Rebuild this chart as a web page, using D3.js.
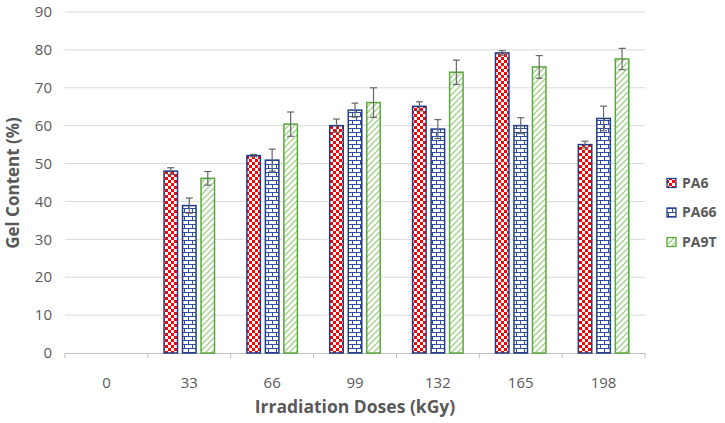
<!DOCTYPE html>
<html><head><meta charset="utf-8">
<script src="https://cdn.jsdelivr.net/npm/d3@7"></script>
<style>body{margin:0;background:#fff;} text{font-family:"Open Sans",Lato,sans-serif;}</style>
</head><body><svg id="c" width="725" height="423"></svg>
<script>
const categories = ["0","33","66","99","132","165","198"];
const seriesNames = ["PA6","PA66","PA9T"];
const pa6  = [null,48,52.1,60,65.1,79.2,55];
const pa66 = [null,38.9,50.9,64.1,59.1,60,61.9];
const pa9t = [null,46.1,60.4,66.1,74.1,75.5,77.6];
const pa6Err  = [0,0.9,0.3,1.75,1.2,0.6,0.9];
const pa66Err = [0,2.0,2.9,1.85,2.5,2.1,3.25];
const pa9tErr = [0,1.8,3.2,3.9,3.2,3.0,2.8];
const yTicks = [0,10,20,30,40,50,60,70,80,90];

const svg = d3.select("#c");
const defs = svg.append("defs");
// PA6 checkerboard
const p1 = defs.append("pattern").attr("id","pat0").attr("patternUnits","userSpaceOnUse").attr("width",6).attr("height",6);
p1.append("rect").attr("width",6).attr("height",6).attr("fill","#fff");
p1.append("rect").attr("width",3).attr("height",3).attr("fill","#ff0000");
p1.append("rect").attr("x",3).attr("y",3).attr("width",3).attr("height",3).attr("fill","#ff0000");
// PA66 bricks
const p2 = defs.append("pattern").attr("id","pat1").attr("patternUnits","userSpaceOnUse").attr("width",8).attr("height",8);
p2.append("rect").attr("width",8).attr("height",8).attr("fill","#fff");
p2.append("path").attr("d","M0,0.5H8M0,4.5H8M0.5,0.5V4.5M4.5,4.5V8.5").attr("stroke","#2f4fa0").attr("stroke-width",1).attr("fill","none");
// PA9T diagonal
const p3 = defs.append("pattern").attr("id","pat2").attr("patternUnits","userSpaceOnUse").attr("width",6).attr("height",6);
p3.append("rect").attr("width",6).attr("height",6).attr("fill","#fff");
p3.append("path").attr("d","M-1,7L7,-1M-1,1L1,-1M5,7L7,5").attr("stroke","#9fd18a").attr("stroke-width",1.3);

const x0 = d3.scaleBand().domain(categories).range([65,645]).paddingInner(0).paddingOuter(0);
const x1 = d3.scaleBand().domain(seriesNames).range([x0.bandwidth()/2-26, x0.bandwidth()/2+26]).paddingInner(0.19);
const y = d3.scaleLinear().domain([0,90]).range([353,12]);

// gridlines
svg.append("g").selectAll("line").data(yTicks.filter(d=>d>0)).join("line")
  .attr("x1",65).attr("x2",645).attr("y1",d=>y(d)).attr("y2",d=>y(d))
  .attr("stroke","#d9d9d9").attr("stroke-width",1);

// y labels
svg.append("g").selectAll("text").data(yTicks).join("text")
  .attr("x",52).attr("y",d=>y(d)).attr("dy","0.35em").attr("text-anchor","end")
  .attr("font-size",15).attr("fill","#595959").text(d=>d);

// x axis
const gx = svg.append("g").attr("transform","translate(0,353.5)");
gx.append("line").attr("x1",65).attr("x2",645).attr("stroke","#bfbfbf");
gx.selectAll("line.tk").data(categories.concat(["end"])).join("line").attr("class","tk")
  .attr("x1",(d,i)=>65+i*x0.step()).attr("x2",(d,i)=>65+i*x0.step()).attr("y1",0).attr("y2",5).attr("stroke","#bfbfbf");
gx.selectAll("text").data(categories).join("text")
  .attr("x",d=>x0(d)+x0.bandwidth()/2).attr("y",34).attr("text-anchor","middle")
  .attr("font-size",15).attr("fill","#595959").text(d=>d);

const values = [pa6,pa66,pa9t];
const errs = [pa6Err,pa66Err,pa9tErr];
const strokes = ["#1f3c88","#1f3c88","#5aa83b"];
seriesNames.forEach((s,si)=>{
  const g = svg.append("g");
  const data = categories.map((c,i)=>({c, v:values[si][i], e:errs[si][i]})).filter(d=>d.v!=null);
  g.selectAll("rect").data(data).join("rect")
    .attr("x",d=>x0(d.c)+x1(s)+0.75).attr("width",x1.bandwidth()-1.5)
    .attr("y",d=>y(d.v)).attr("height",d=>y(0)-y(d.v))
    .attr("fill",`url(#pat${si})`).attr("stroke",strokes[si]).attr("stroke-width",1.5);
  const eg = g.selectAll("g.err").data(data).join("g").attr("class","err");
  const cx = d=>x0(d.c)+x1(s)+x1.bandwidth()/2;
  eg.append("line").attr("x1",cx).attr("x2",cx).attr("y1",d=>y(d.v+d.e)).attr("y2",d=>y(d.v-d.e)).attr("stroke","#666").attr("stroke-width",1.2);
  eg.append("line").attr("x1",d=>cx(d)-3.5).attr("x2",d=>cx(d)+3.5).attr("y1",d=>y(d.v+d.e)).attr("y2",d=>y(d.v+d.e)).attr("stroke","#666").attr("stroke-width",1.2);
  eg.append("line").attr("x1",d=>cx(d)-3.5).attr("x2",d=>cx(d)+3.5).attr("y1",d=>y(d.v-d.e)).attr("y2",d=>y(d.v-d.e)).attr("stroke","#666").attr("stroke-width",1.2);
});

// legend
const lg = svg.append("g");
seriesNames.forEach((s,i)=>{
  const yy = 183 + i*29.5;
  lg.append("rect").attr("x",667).attr("y",yy-4.5).attr("width",9).attr("height",9)
    .attr("fill",`url(#pat${i})`).attr("stroke",strokes[i]).attr("stroke-width",1.3);
  lg.append("text").attr("x",682).attr("y",yy).attr("dy","0.35em").attr("font-size",14).attr("font-weight","bold")
    .attr("fill","#595959").text(s);
});

// axis titles
svg.append("text").attr("transform","translate(19,183) rotate(-90)").attr("text-anchor","middle")
  .attr("font-size",17).attr("font-weight","bold").attr("fill","#595959").text("Gel Content (%)");
svg.append("text").attr("x",355).attr("y",413).attr("text-anchor","middle")
  .attr("font-size",17.5).attr("font-weight","bold").attr("fill","#595959").text("Irradiation Doses (kGy)");
</script></body></html>
